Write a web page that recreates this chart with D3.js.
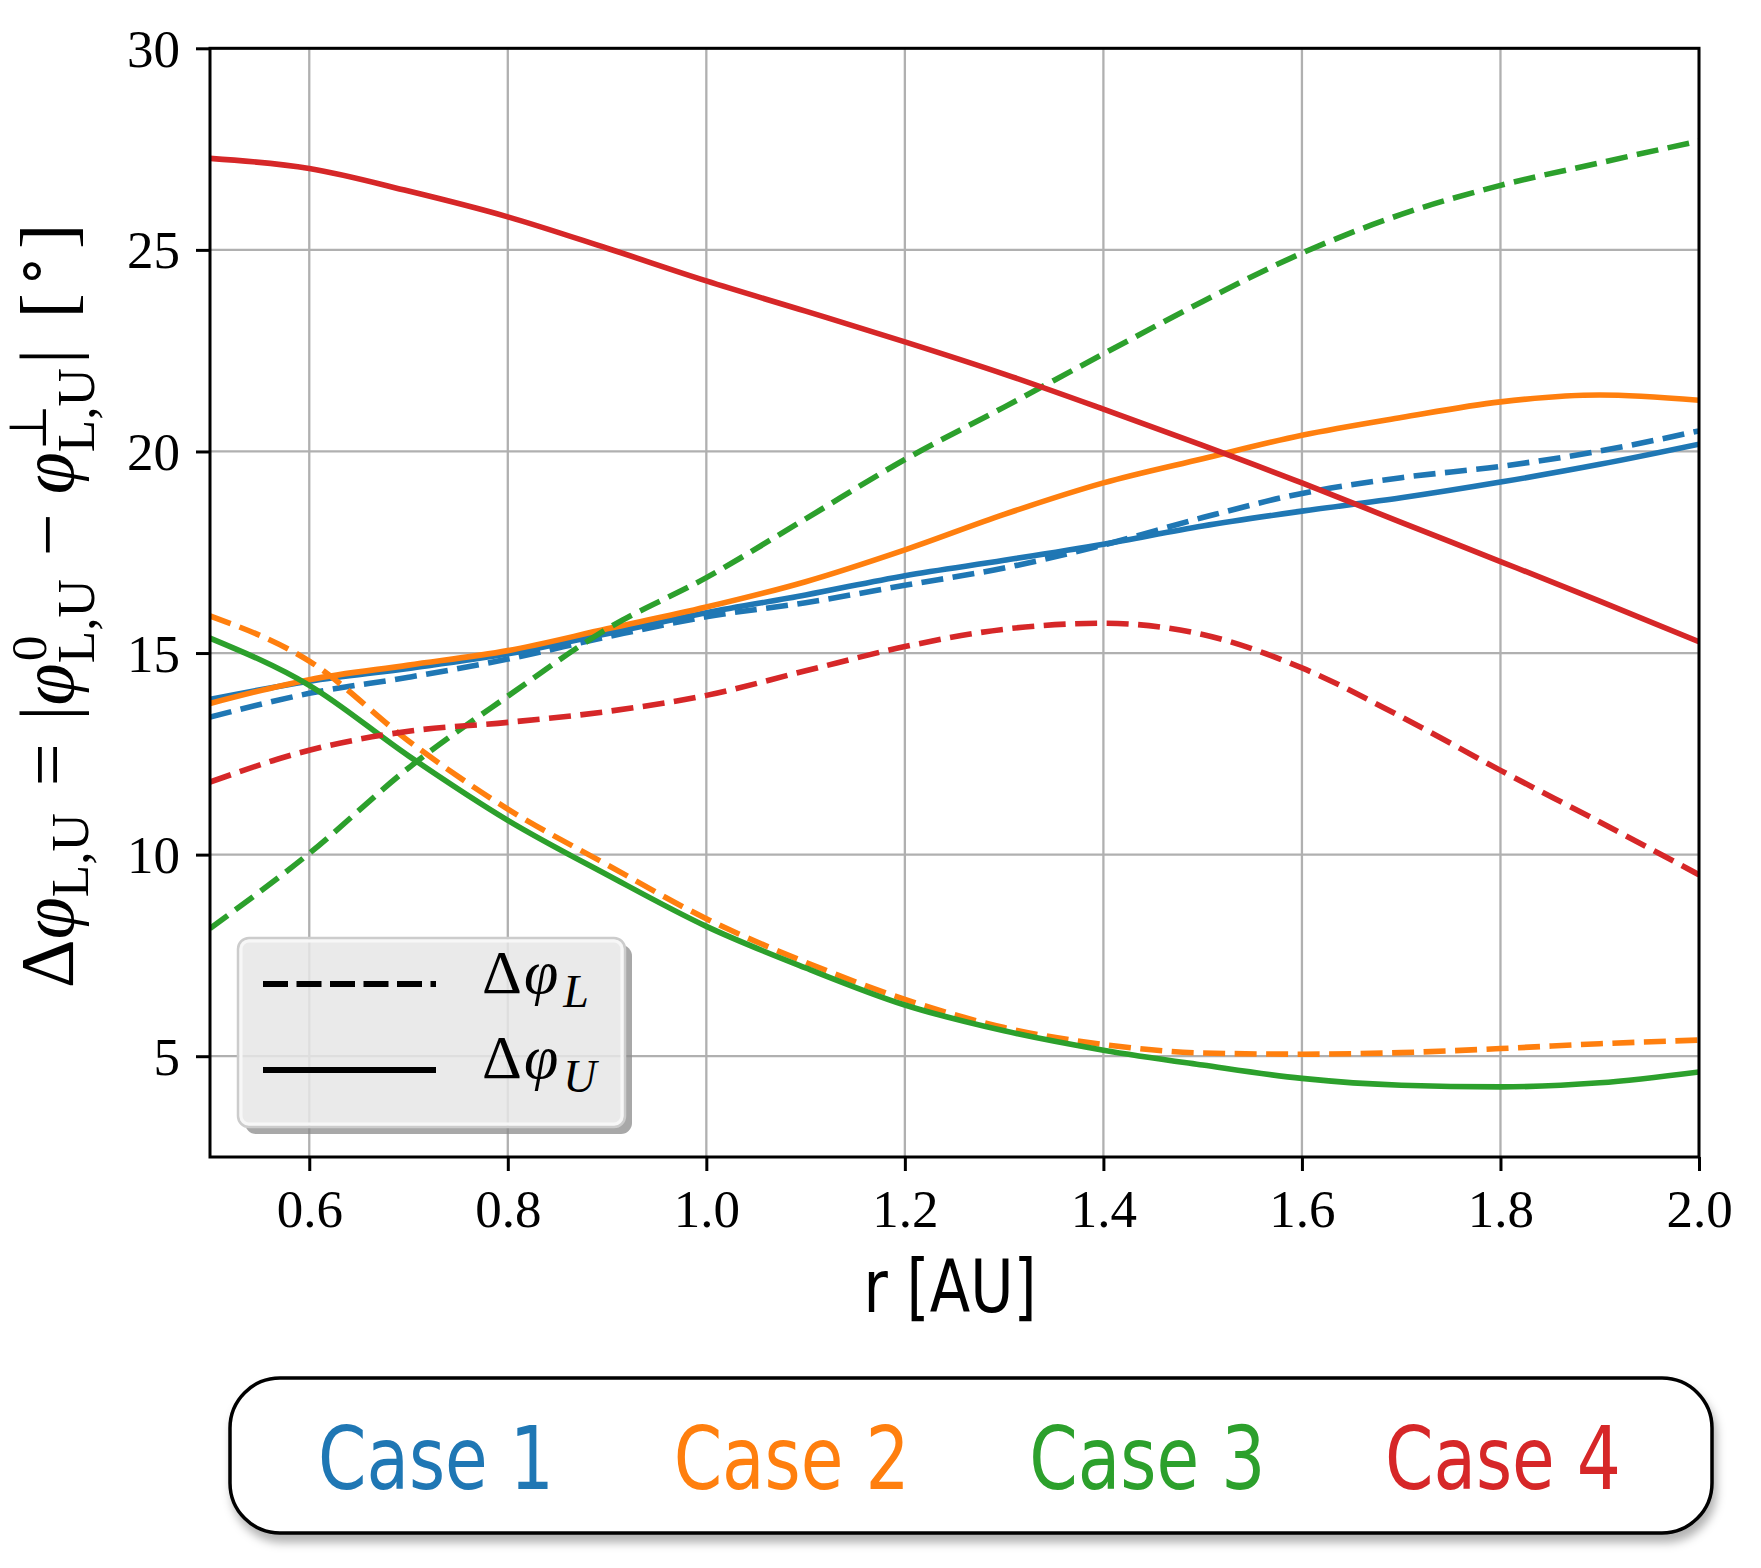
<!DOCTYPE html>
<html>
<head>
<meta charset="utf-8">
<script src="https://cdn.jsdelivr.net/npm/d3@7"></script>
<style>
  body { margin: 0; background: #fff; }
  svg { display: block; }
  .tick text { font-family: "Liberation Serif", serif; }
</style>
</head>
<body>
<svg id="chart" width="1761" height="1568"></svg>
<script>
// r [AU] sample points
var r_vals = [0.5, 0.6, 0.7, 0.8, 0.9, 1.0, 1.1, 1.2, 1.3, 1.4, 1.5, 1.6, 1.7, 1.8, 1.9, 2.0];

// delta phi L (dashed) and delta phi U (solid), one array per case
var case1_L = [13.41, 14.00, 14.40, 14.85, 15.40, 15.90, 16.25, 16.68, 17.11, 17.68, 18.36, 18.96, 19.35, 19.63, 20.01, 20.51];
var case1_U = [13.85, 14.30, 14.62, 14.98, 15.48, 16.00, 16.44, 16.92, 17.30, 17.70, 18.15, 18.52, 18.85, 19.24, 19.68, 20.18];
var case2_L = [15.92, 14.80, 12.82, 11.13, 9.75, 8.41, 7.33, 6.41, 5.71, 5.29, 5.08, 5.05, 5.09, 5.19, 5.31, 5.40];
var case2_U = [13.75, 14.34, 14.70, 15.06, 15.60, 16.14, 16.77, 17.56, 18.44, 19.22, 19.82, 20.40, 20.84, 21.23, 21.40, 21.27];
var case3_L = [8.17, 10.03, 12.15, 13.93, 15.60, 16.87, 18.33, 19.80, 21.10, 22.42, 23.72, 24.92, 25.88, 26.60, 27.16, 27.70];
var case3_U = [15.37, 14.20, 12.45, 10.85, 9.50, 8.22, 7.19, 6.27, 5.63, 5.15, 4.78, 4.45, 4.28, 4.24, 4.34, 4.61];
var case4_L = [11.80, 12.59, 13.06, 13.28, 13.55, 13.95, 14.56, 15.16, 15.59, 15.74, 15.46, 14.63, 13.42, 12.09, 10.81, 9.50];
var case4_U = [27.27, 27.02, 26.46, 25.82, 25.04, 24.23, 23.48, 22.72, 21.92, 21.05, 20.15, 19.22, 18.24, 17.27, 16.29, 15.28];

var case_names = ["Case 1", "Case 2", "Case 3", "Case 4"];
var case_colors = ["#1f77b4", "#ff7f0e", "#2ca02c", "#d62728"];
var series_L = [case1_L, case2_L, case3_L, case4_L];
var series_U = [case1_U, case2_U, case3_U, case4_U];

var x_ticks = [0.6, 0.8, 1.0, 1.2, 1.4, 1.6, 1.8, 2.0];
var y_ticks = [5, 10, 15, 20, 25, 30];

var svg = d3.select("#chart");
var p_left = 210, p_right = 1699, p_top = 48.3, p_bottom = 1157;

var x = d3.scaleLinear().domain([0.5, 2.0]).range([p_left, p_right]);
var y = d3.scaleLinear().domain([2.5, 30]).range([p_bottom, p_top]);

var defs = svg.append("defs");
defs.append("clipPath").attr("id", "plotclip")
	.append("rect").attr("x", p_left).attr("y", p_top)
	.attr("width", p_right - p_left).attr("height", p_bottom - p_top);

/* grid */
var grid = svg.append("g");
grid.selectAll(".gx").data(x_ticks).enter().append("line")
	.attr("x1", function(d){ return x(d); }).attr("x2", function(d){ return x(d); })
	.attr("y1", p_top).attr("y2", p_bottom)
	.attr("stroke", "#b0b0b0").attr("stroke-width", 2.3);
grid.selectAll(".gy").data(y_ticks).enter().append("line")
	.attr("y1", function(d){ return y(d); }).attr("y2", function(d){ return y(d); })
	.attr("x1", p_left).attr("x2", p_right)
	.attr("stroke", "#b0b0b0").attr("stroke-width", 2.3);

/* curves */
var line = d3.line()
	.x(function(d, i){ return x(r_vals[i]); })
	.y(function(d){ return y(d); })
	.curve(d3.curveMonotoneX);

var curves = svg.append("g").attr("clip-path", "url(#plotclip)");
for (var c = 0; c < 4; c++){
	curves.append("path")
		.attr("d", line(series_L[c]))
		.attr("fill", "none")
		.attr("stroke", case_colors[c])
		.attr("stroke-width", 5.6)
		.attr("stroke-dasharray", "22,9.5");
	curves.append("path")
		.attr("d", line(series_U[c]))
		.attr("fill", "none")
		.attr("stroke", case_colors[c])
		.attr("stroke-width", 5.6);
}

/* axes */
var xAxis = svg.append("g")
	.attr("transform", "translate(0," + p_bottom + ")")
	.call(d3.axisBottom(x).tickValues(x_ticks).tickSize(14).tickPadding(18).tickFormat(d3.format(".1f")));
var yAxis = svg.append("g")
	.attr("transform", "translate(" + p_left + ",0)")
	.call(d3.axisLeft(y).tickValues(y_ticks).tickSize(14).tickPadding(16).tickFormat(d3.format("d")));
[xAxis, yAxis].forEach(function(a){
	a.select(".domain").remove();
	a.selectAll(".tick line").attr("stroke", "#000").attr("stroke-width", 3);
	a.selectAll(".tick text").attr("fill", "#000").style("font-size", "53px");
});
xAxis.selectAll(".tick text").attr("dy", "0.71em");
yAxis.selectAll(".tick text").attr("dy", "0.34em");

svg.append("rect")
	.attr("x", p_left).attr("y", p_top)
	.attr("width", p_right - p_left).attr("height", p_bottom - p_top)
	.attr("fill", "none").attr("stroke", "#000").attr("stroke-width", 3);

/* x label */
svg.append("text")
	.attr("x", 950).attr("y", 1312)
	.attr("text-anchor", "middle")
	.attr("font-family", "DejaVu Sans, sans-serif")
	.attr("font-size", 73)
	.attr("textLength", 173).attr("lengthAdjust", "spacingAndGlyphs")
	.text("r [AU]");

/* y label: pieces laid out along the baseline, then rotated */
var F = 76;
var ylab = svg.append("g");
var pieces = [
	{t: "Δ"}, {t: "φ", it: 1}, {sub: "L,U"}, {gap: 0.3}, {t: "="}, {gap: 0.3},
	{t: "|"}, {t: "φ", it: 1}, {sup: "0", sub: "L,U"}, {gap: 0.25}, {t: "−"}, {gap: 0.25},
	{t: "φ", it: 1}, {sup: "⊥", sub: "L,U"}, {t: "|"}, {gap: 0.4}, {t: "["}, {sup2: "∘"}, {t: "]"}
];
var cx = 0;
function put(str, px, py, size, italic){
	var t = ylab.append("text")
		.attr("x", px).attr("y", py)
		.attr("font-family", "Liberation Serif, serif")
		.attr("font-size", size)
		.attr("font-style", italic ? "italic" : "normal")
		.text(str);
	return t.node().getComputedTextLength();
}
pieces.forEach(function(p){
	if (p.gap) { cx += p.gap * F; return; }
	if (p.t) { cx += put(p.t, cx, 0, F, p.it); return; }
	if (p.sup2) { cx += put(p.sup2, cx + 4, -0.3 * F, 0.75 * F, 0) + 8; return; }
	var w1 = 0, w2 = 0;
	if (p.sup) w1 = put(p.sup, cx + 2, -0.36 * F, 0.68 * F, 0);
	if (p.sub) w2 = put(p.sub, cx, p.sup ? 0.27 * F : 0.2 * F, 0.7 * F, 0);
	cx += Math.max(w1, w2) + 4;
});
ylab.attr("transform", "translate(73," + (606 + cx / 2) + ") rotate(-90)");

/* inner legend (line styles) */
var lg = {x: 238, y: 938, w: 387, h: 189, r: 11};
var mask = defs.append("mask").attr("id", "shmask");
mask.append("rect").attr("width", 1761).attr("height", 1568).attr("fill", "#fff");
mask.append("rect").attr("x", lg.x).attr("y", lg.y).attr("width", lg.w).attr("height", lg.h)
	.attr("rx", lg.r).attr("fill", "#000");
svg.append("rect")
	.attr("x", lg.x + 7).attr("y", lg.y + 7).attr("width", lg.w).attr("height", lg.h)
	.attr("rx", lg.r).attr("fill", "#8c8c8c").attr("opacity", 0.75)
	.attr("mask", "url(#shmask)");
svg.append("rect")
	.attr("x", lg.x).attr("y", lg.y).attr("width", lg.w).attr("height", lg.h)
	.attr("rx", lg.r).attr("fill", "#e6e6e6").attr("fill-opacity", 0.85)
	.attr("stroke", "#cccccc").attr("stroke-width", 2.5);
svg.append("rect")
	.attr("x", lg.x + 3).attr("y", lg.y + 3).attr("width", lg.w - 6).attr("height", lg.h - 6)
	.attr("rx", lg.r - 3).attr("fill", "none")
	.attr("stroke", "#f7f7f7").attr("stroke-width", 3);

var legend_items = [
	{dash: "25,8.5", y: 984, label: "L", base: 993},
	{dash: null, y: 1070, label: "U", base: 1078}
];
legend_items.forEach(function(it){
	svg.append("line")
		.attr("x1", 263).attr("x2", 436).attr("y1", it.y).attr("y2", it.y)
		.attr("stroke", "#000").attr("stroke-width", 5.8)
		.attr("stroke-dasharray", it.dash);
	var t = svg.append("text")
		.attr("x", 482).attr("y", it.base)
		.attr("font-family", "Liberation Serif, serif")
		.attr("font-size", 62);
	t.append("tspan").text("Δ");
	t.append("tspan").attr("font-style", "italic").attr("dx", 2).text("φ");
	t.append("tspan").attr("font-style", "italic").attr("font-size", 46).attr("dy", 14).attr("dx", 5).text(it.label);
});

/* bottom legend (cases) */
var filt = defs.append("filter").attr("id", "boxshadow")
	.attr("x", "-5%").attr("y", "-20%").attr("width", "110%").attr("height", "150%");
filt.append("feDropShadow").attr("dx", 3).attr("dy", 8).attr("stdDeviation", 5)
	.attr("flood-color", "#000").attr("flood-opacity", 0.3);

svg.append("rect")
	.attr("x", 230).attr("y", 1378).attr("width", 1482).attr("height", 155)
	.attr("rx", 50).attr("fill", "#fff")
	.attr("stroke", "#000").attr("stroke-width", 3.5)
	.attr("filter", "url(#boxshadow)");

var cpos = d3.scalePoint().domain(case_names).range([436, 1503]);
svg.selectAll(".casetxt").data(case_names).enter().append("text")
	.attr("x", function(d){ return cpos(d); })
	.attr("y", 1489)
	.attr("text-anchor", "middle")
	.attr("font-family", "DejaVu Sans, sans-serif")
	.attr("font-size", 87)
	.attr("textLength", 236).attr("lengthAdjust", "spacingAndGlyphs")
	.attr("fill", function(d, i){ return case_colors[i]; })
	.text(function(d){ return d; });
</script>
</body>
</html>
